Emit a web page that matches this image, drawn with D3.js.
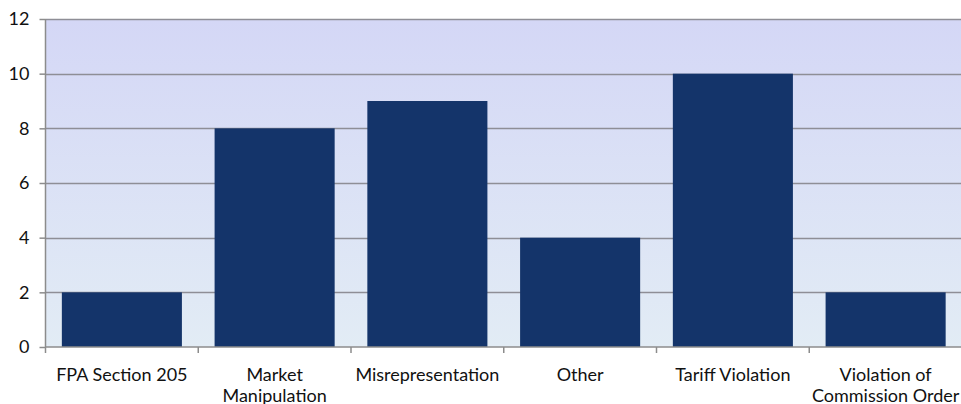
<!DOCTYPE html>
<html>
<head>
<meta charset="utf-8">
<script src="https://cdn.jsdelivr.net/npm/d3@7"></script>
<style>
  html, body { margin: 0; padding: 0; background: #ffffff; }
  svg { display: block; }
</style>
</head>
<body>
<svg id="chart" width="961" height="404"></svg>
<script>
// Number of cases by violation type
const categories = [
  "FPA Section 205",
  "Market\nManipulation",
  "Misrepresentation",
  "Other",
  "Tariff Violation",
  "Violation of\nCommission Order"
];
const counts = [2, 8, 9, 4, 10, 2];
const yTicks = [0, 2, 4, 6, 8, 10, 12];

const svg = d3.select("#chart");
const margin = { left: 45.5, top: 19, bottom: 57 };
const plotRight = 962;
const height = 404;

const x = d3.scaleBand()
  .domain(categories)
  .range([margin.left, plotRight])
  .paddingInner(0.214)
  .paddingOuter(0.107);

const y = d3.scaleLinear()
  .domain([0, 12])
  .range([height - margin.bottom, margin.top]);

// plot area background gradient
const defs = svg.append("defs");
const grad = defs.append("linearGradient")
  .attr("id", "bg").attr("x1", 0).attr("y1", 0).attr("x2", 0).attr("y2", 1);
grad.append("stop").attr("offset", "0%").attr("stop-color", "#d4d7f6");
grad.append("stop").attr("offset", "100%").attr("stop-color", "#e2ecf5");

svg.append("rect")
  .attr("x", margin.left)
  .attr("y", y(12))
  .attr("width", plotRight - margin.left)
  .attr("height", y(0) - y(12))
  .attr("fill", "url(#bg)");

// horizontal gridlines
svg.append("g")
  .selectAll("line")
  .data(yTicks.filter(d => d > 0))
  .join("line")
  .attr("x1", margin.left)
  .attr("x2", plotRight)
  .attr("y1", d => Math.round(y(d)) + 0.5)
  .attr("y2", d => Math.round(y(d)) + 0.5)
  .attr("stroke", "#8e8e96")
  .attr("stroke-width", 1.5);

// bars
svg.append("g")
  .selectAll("rect")
  .data(categories.map((c, i) => ({ c, v: counts[i] })))
  .join("rect")
  .attr("x", d => x(d.c))
  .attr("y", d => y(d.v))
  .attr("width", x.bandwidth())
  .attr("height", d => y(0) - y(d.v))
  .attr("fill", "#14346a");

// y axis
const yAxis = d3.axisLeft(y)
  .tickValues(yTicks)
  .tickSize(6)
  .tickPadding(10)
  .tickFormat(d3.format("d"));

const gy = svg.append("g")
  .attr("transform", `translate(${margin.left},0)`)
  .call(yAxis);
gy.select(".domain").attr("stroke", "#8c8c8c").attr("stroke-width", 1.5).attr("d", `M0,${y(12)}V${y(0)}`);
gy.selectAll(".tick line").attr("stroke", "#8c8c8c").attr("stroke-width", 1.5);
gy.selectAll(".tick text")
  .attr("fill", "#111")
  .style("font-family", "Lato, 'Open Sans', sans-serif")
  .style("font-size", "18px");

// x axis baseline and category dividers
const boundaries = d3.range(categories.length + 1)
  .map(i => margin.left + i * x.step());
svg.append("line")
  .attr("x1", margin.left).attr("x2", plotRight)
  .attr("y1", y(0)).attr("y2", y(0))
  .attr("stroke", "#8c8c8c").attr("stroke-width", 1.5);
svg.append("g")
  .selectAll("line")
  .data(boundaries)
  .join("line")
  .attr("x1", d => d).attr("x2", d => d)
  .attr("y1", y(0)).attr("y2", y(0) + 6)
  .attr("stroke", "#8c8c8c").attr("stroke-width", 1.5);

// category labels (may wrap onto two lines)
const labels = svg.append("g")
  .selectAll("text")
  .data(categories)
  .join("text")
  .attr("x", d => x(d) + x.bandwidth() / 2)
  .attr("y", 381)
  .attr("text-anchor", "middle")
  .attr("fill", "#111")
  .style("font-family", "Lato, 'Open Sans', sans-serif")
  .style("font-size", "18px");
labels.each(function(d) {
  const t = d3.select(this);
  d.split("\n").forEach((line, i) => {
    t.append("tspan")
      .attr("x", t.attr("x"))
      .attr("dy", i === 0 ? 0 : 21)
      .text(line);
  });
});
</script>
</body>
</html>
